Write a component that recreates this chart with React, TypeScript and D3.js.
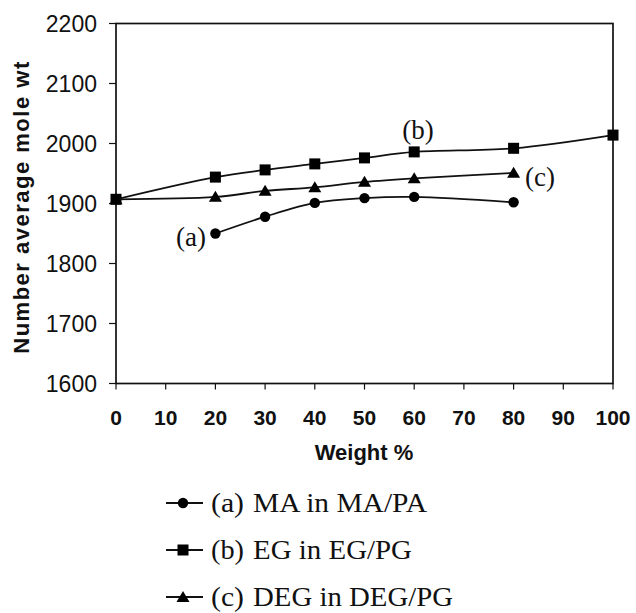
import React from "react";
import * as d3 from "d3";

// Weight % of the first glycol / anhydride in each blend
const weightMA = [20, 30, 40, 50, 60, 80];
const moleWtMA = [1850, 1878, 1901, 1909, 1911, 1902];

const weightEG = [0, 20, 30, 40, 50, 60, 80, 100];
const moleWtEG = [1907, 1944, 1956, 1966, 1976, 1986, 1992, 2014];

const weightDEG = [0, 20, 30, 40, 50, 60, 80];
const moleWtDEG = [1907, 1911, 1921, 1927, 1936, 1942, 1951];

const xTicks = [0, 10, 20, 30, 40, 50, 60, 70, 80, 90, 100];
const yTicks = [1600, 1700, 1800, 1900, 2000, 2100, 2200];

const seriesTags = ["(a)", "(b)", "(c)"];
const seriesNames = ["MA in MA/PA", "EG in EG/PG", "DEG in DEG/PG"];
const seriesSymbols = ["circle", "square", "triangle"];

const W = 636;
const H = 613;
const M = { left: 116, right: 613, top: 23.5, bottom: 383.5 };

const SANS = "'Liberation Sans', Arial, sans-serif";
const SERIF = "'Liberation Serif', 'Times New Roman', serif";

function Marker({ kind, x, y }: { kind: string; x: number; y: number }) {
  if (kind === "circle") return <circle cx={x} cy={y} r={5.2} fill="#000" />;
  if (kind === "square")
    return <rect x={x - 5.5} y={y - 5.5} width={11} height={11} fill="#000" />;
  const h = 11;
  return (
    <path
      d={`M${x},${y - h * 0.55}L${x + 6.5},${y + h * 0.45}L${x - 6.5},${y + h * 0.45}Z`}
      fill="#000"
    />
  );
}

export default function App() {
  const x = d3.scaleLinear().domain([0, 100]).range([M.left, M.right]);
  const y = d3.scaleLinear().domain([1600, 2200]).range([M.bottom, M.top]);

  const series = [
    { xs: weightMA, ys: moleWtMA },
    { xs: weightEG, ys: moleWtEG },
    { xs: weightDEG, ys: moleWtDEG },
  ];

  const line = d3
    .line<[number, number]>()
    .x((d) => x(d[0]))
    .y((d) => y(d[1]))
    .curve(d3.curveCatmullRom.alpha(0.5));

  const legendY = [503, 550, 597];
  const legendNameWidth = [174, 159, 200];

  return (
    <svg
      width={W}
      height={H}
      style={{ position: "absolute", left: 0, top: 0, background: "#fff" }}
    >
      {/* plot frame */}
      <rect
        x={M.left}
        y={M.top}
        width={M.right - M.left}
        height={M.bottom - M.top}
        fill="none"
        stroke="#111"
        strokeWidth={1.7}
      />

      {/* y axis ticks and labels */}
      {yTicks.map((t) => (
        <g key={t}>
          <line x1={M.left - 7} x2={M.left} y1={y(t)} y2={y(t)} stroke="#111" strokeWidth={1.2} />
          <text
            x={97}
            y={y(t)}
            textAnchor="end"
            dominantBaseline="central"
            fontFamily={SANS}
            fontSize={23}
            fill="#111"
          >
            {t}
          </text>
        </g>
      ))}

      {/* x axis ticks and labels */}
      {xTicks.map((t) => (
        <g key={t}>
          <line x1={x(t)} x2={x(t)} y1={M.bottom} y2={M.bottom + 6} stroke="#111" strokeWidth={1.2} />
          <text
            x={x(t)}
            y={417}
            textAnchor="middle"
            dominantBaseline="central"
            fontFamily={SANS}
            fontSize={21}
            fontWeight="bold"
            fill="#111"
          >
            {t}
          </text>
        </g>
      ))}

      {/* axis titles */}
      <text
        x={364}
        y={452}
        textAnchor="middle"
        dominantBaseline="central"
        fontFamily={SANS}
        fontSize={22}
        fontWeight="bold"
        fill="#111"
      >
        Weight %
      </text>
      <text
        transform={`translate(21,${207}) rotate(-90)`}
        textAnchor="middle"
        dominantBaseline="central"
        fontFamily={SANS}
        fontSize={22}
        fontWeight="bold"
        letterSpacing={1.5}
        fill="#111"
      >
        Number average mole wt
      </text>

      {/* series lines and markers */}
      {series.map((s, i) => {
        const pts = s.xs.map((v, j) => [v, s.ys[j]] as [number, number]);
        return (
          <g key={i}>
            <path d={line(pts) || ""} fill="none" stroke="#111" strokeWidth={1.8} />
            {pts.map((p, j) => (
              <Marker key={j} kind={seriesSymbols[i]} x={x(p[0])} y={y(p[1])} />
            ))}
          </g>
        );
      })}

      {/* curve tags */}
      <text x={191} y={237} textAnchor="middle" dominantBaseline="central" fontFamily={SERIF} fontSize={27} fill="#111">
        {seriesTags[0]}
      </text>
      <text x={418} y={130} textAnchor="middle" dominantBaseline="central" fontFamily={SERIF} fontSize={27} fill="#111">
        {seriesTags[1]}
      </text>
      <text x={540} y={177} textAnchor="middle" dominantBaseline="central" fontFamily={SERIF} fontSize={27} fill="#111">
        {seriesTags[2]}
      </text>

      {/* legend */}
      {seriesNames.map((name, i) => (
        <g key={name}>
          <line x1={166} x2={203} y1={legendY[i]} y2={legendY[i]} stroke="#111" strokeWidth={1.8} />
          <Marker kind={seriesSymbols[i]} x={183} y={legendY[i]} />
          <text
            x={211}
            y={legendY[i]}
            dominantBaseline="central"
            fontFamily={SERIF}
            fontSize={27}
            textLength={33}
            lengthAdjust="spacingAndGlyphs"
            fill="#111"
          >
            {seriesTags[i]}
          </text>
          <text
            x={253}
            y={legendY[i]}
            dominantBaseline="central"
            fontFamily={SERIF}
            fontSize={27}
            textLength={legendNameWidth[i]}
            lengthAdjust="spacingAndGlyphs"
            fill="#111"
          >
            {name}
          </text>
        </g>
      ))}
    </svg>
  );
}
